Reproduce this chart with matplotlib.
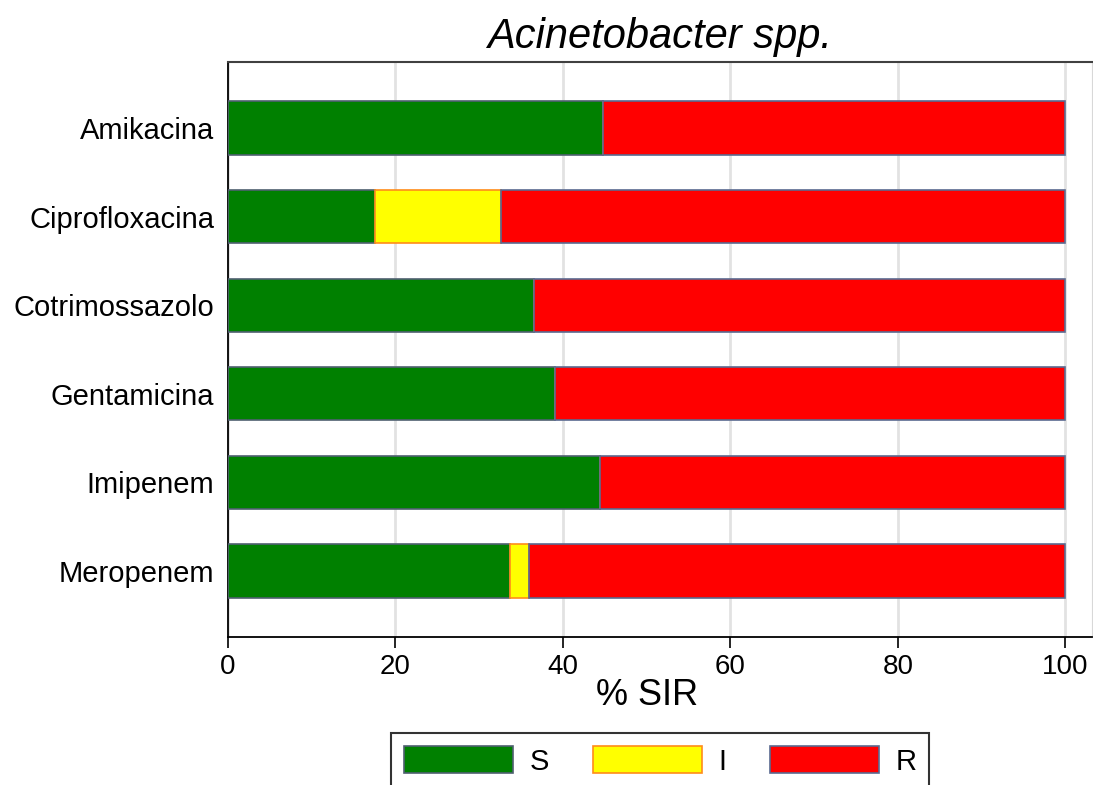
import matplotlib.pyplot as plt
import numpy as np

plt.rcParams['font.family'] = ['Liberation Sans', 'DejaVu Sans']

drugs = ['Amikacina', 'Ciprofloxacina', 'Cotrimossazolo',
         'Gentamicina', 'Imipenem', 'Meropenem']
pct_s = [44.8, 17.6, 36.6, 39.1, 44.4, 33.7]
pct_i = [0.0, 15.0, 0.0, 0.0, 0.0, 2.3]
pct_r = [100 - s - i for s, i in zip(pct_s, pct_i)]

fig = plt.figure(figsize=(10.93, 7.85), dpi=100)
ax = fig.add_axes([0.2086, 0.1885, 0.7905, 0.7325])

y = np.arange(len(drugs))
h = 0.6
s = np.array(pct_s)
i = np.array(pct_i)
r = np.array(pct_r)

ax.barh(y, s, height=h, color='#008000', edgecolor='#4f6070', linewidth=1.2, label='S', zorder=3)
ax.barh(y, i, left=s, height=h, color='#ffff00', edgecolor='#ff8c1a', linewidth=1.2, label='I', zorder=3)
ax.barh(y, r, left=s + i, height=h, color='#ff0000', edgecolor='#5a6a90', linewidth=1.2, label='R', zorder=3)

ax.set_xlim(0, 103.2)
ax.set_ylim(len(drugs) - 1 + 0.745, -0.745)
ax.set_yticks(y)
ax.set_yticklabels(drugs, fontsize=21)
ax.set_xticks([0, 20, 40, 60, 80, 100])
ax.tick_params(axis='x', labelsize=20, length=8, width=1.2, pad=4)
ax.tick_params(axis='y', length=0, pad=10)
ax.grid(axis='x', color='#e2e2e2', linewidth=2, zorder=0)
ax.set_xlabel('% SIR', fontsize=26, labelpad=2)
# centre the axis title over the 0-100 range, not the whole frame
ax.xaxis.set_label_coords(50 / 103.2, -0.072)
ax.set_title('Acinetobacter spp.', fontsize=30, style='italic', pad=10)

for side in ['left', 'bottom']:
    ax.spines[side].set_color('black')
    ax.spines[side].set_linewidth(1.3)
ax.spines['top'].set_color('#404040')
ax.spines['top'].set_linewidth(1.5)
ax.spines['right'].set_color('#d8d8d8')

leg = fig.legend(loc='upper center', bbox_to_anchor=(0.604, 0.066), ncol=3,
                 fontsize=21, frameon=True, fancybox=False, edgecolor='black',
                 handlelength=3.75, handleheight=1.05, handletextpad=0.55,
                 columnspacing=1.5, borderpad=0.45, borderaxespad=0)
leg.get_frame().set_linewidth(1.5)

fig.savefig('out.png', dpi=100)
